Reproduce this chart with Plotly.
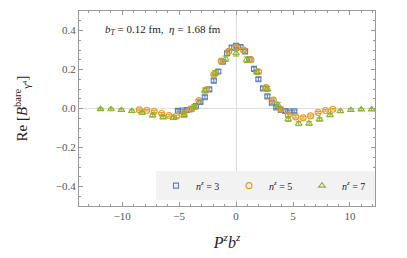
import plotly.graph_objects as go

# P^z b^z positions for each n^z (z = -13..13)
x_n3 = [-5.11,-4.71,-4.32,-3.93,-3.53,-3.14,-2.75,-2.36,-1.96,-1.57,-1.18,-0.79,-0.39,0,
        0.39,0.79,1.18,1.57,1.96,2.36,2.75,3.14,3.53,3.93,4.32,4.71,5.11]
y_n3 = [-0.012,-0.010,-0.008,-0.002,0.012,0.033,0.058,0.098,0.143,0.190,0.240,0.283,0.312,0.322,
        0.315,0.293,0.252,0.203,0.150,0.103,0.062,0.030,0.006,-0.008,-0.013,-0.015,-0.014]
e_n3 = [0.006,0.006,0.006,0.006,0.006,0.007,0.008,0.008,0.009,0.009,0.010,0.010,0.010,0.010,
        0.010,0.010,0.010,0.009,0.009,0.008,0.008,0.007,0.006,0.006,0.006,0.006,0.006]

x_n5 = [-8.50,-7.85,-7.20,-6.54,-5.89,-5.24,-4.58,-3.93,-3.27,-2.62,-1.96,-1.31,-0.65,0,
        0.65,1.31,1.96,2.62,3.27,3.93,4.58,5.24,5.89,6.54,7.20,7.85,8.50]
y_n5 = [-0.007,-0.009,-0.016,-0.026,-0.036,-0.040,-0.025,-0.003,0.041,0.096,0.174,0.243,0.293,0.312,
        0.300,0.250,0.188,0.108,0.043,-0.004,-0.033,-0.043,-0.048,-0.038,-0.021,-0.010,-0.004]
e_n5 = [0.004,0.004,0.005,0.005,0.006,0.006,0.006,0.007,0.007,0.008,0.008,0.009,0.009,0.009,
        0.009,0.009,0.008,0.008,0.007,0.007,0.006,0.006,0.006,0.005,0.005,0.004,0.004]

x_n7 = [-11.91,-10.99,-10.08,-9.16,-8.25,-7.33,-6.41,-5.50,-4.58,-3.67,-2.75,-1.83,-0.92,0,
        0.92,1.83,2.75,3.67,4.58,5.50,6.41,7.33,8.25,9.16,10.08,10.99,11.91]
y_n7 = [-0.003,-0.004,-0.008,-0.013,-0.022,-0.035,-0.044,-0.047,-0.034,0.008,0.092,0.182,0.255,0.283,
        0.250,0.188,0.100,0.018,-0.055,-0.078,-0.077,-0.056,-0.034,-0.014,-0.008,-0.005,-0.005]
e_n7 = [0.005,0.005,0.006,0.006,0.007,0.008,0.009,0.010,0.011,0.012,0.013,0.013,0.014,0.014,
        0.014,0.013,0.013,0.012,0.011,0.010,0.009,0.008,0.007,0.006,0.006,0.005,0.005]

series = [
    ("<i>n</i><sup><i>z</i></sup> = 3", x_n3, y_n3, e_n3, "#5E81B5", "square-open", 5),
    ("<i>n</i><sup><i>z</i></sup> = 5", x_n5, y_n5, e_n5, "#E19C24", "circle-open", 6),
    ("<i>n</i><sup><i>z</i></sup> = 7", x_n7, y_n7, e_n7, "#8FB032", "triangle-up-open", 6),
]

FONT = "Liberation Serif, DejaVu Serif, serif"

fig = go.Figure()
for name, xs, ys, es, col, sym, sz in series:
    fig.add_trace(go.Scatter(
        x=xs, y=ys, mode="markers", name=name,
        marker=dict(symbol=sym, size=sz, color=col, line=dict(width=1.1, color=col)),
        error_y=dict(type="data", array=es, visible=True, color=col, thickness=1, width=3),
    ))

axis_common = dict(
    showgrid=False, zeroline=True, zerolinecolor="#dddddd", zerolinewidth=1,
    showline=True, linecolor="#999999", linewidth=1, mirror="allticks",
    ticks="inside", ticklen=4, tickcolor="#999999", tickwidth=1,
    tickfont=dict(family=FONT, size=11, color="#555555"),
)

fig.update_xaxes(range=[-13.8, 12.2], tickvals=[-10, -5, 0, 5, 10],
                 ticktext=["\u221210", "\u22125", "0", "5", "10"],
                 minor=dict(ticks="inside", ticklen=2, tickcolor="#999999", dtick=1, tick0=0, showgrid=False),
                 title=dict(text="<i>P</i><sup><i>z</i></sup><i>b</i><sup><i>z</i></sup>",
                            font=dict(family=FONT, size=16, color="#222222"), standoff=15),
                 **axis_common)
fig.update_yaxes(range=[-0.5, 0.5], tickvals=[-0.4, -0.2, 0.0, 0.2, 0.4],
                 ticktext=["\u22120.4", "\u22120.2", "0.0", "0.2", "0.4"],
                 minor=dict(ticks="inside", ticklen=2, tickcolor="#999999", dtick=0.05, tick0=0, showgrid=False),
                 title=dict(text="Re [<i>B</i><sup>bare</sup><sub>γ⁴</sub>]",
                            font=dict(family=FONT, size=15, color="#222222"), standoff=24),
                 **axis_common)

fig.add_annotation(xref="paper", yref="paper", x=0.08, y=0.9, xanchor="left", yanchor="middle",
                   text="<i>b</i><sub><i>T</i></sub> = 0.12 fm,  <i>η</i> = 1.68 fm",
                   showarrow=False, font=dict(family=FONT, size=11, color="#222222"))

fig.update_layout(
    width=407, height=258,
    margin=dict(l=79, r=32, t=11, b=52, autoexpand=False),
    paper_bgcolor="white", plot_bgcolor="white",
    showlegend=True,
    legend=dict(orientation="h", x=1.0, xanchor="right", y=0.03, yanchor="bottom",
                bgcolor="#f2f2f2", borderwidth=0, entrywidth=28, itemwidth=30,
                font=dict(family=FONT, size=10, color="#222222"), itemsizing="trace"),
)

fig.write_html("out.html", post_script="document.body.style.margin='0';",
               config={"displayModeBar": False})
